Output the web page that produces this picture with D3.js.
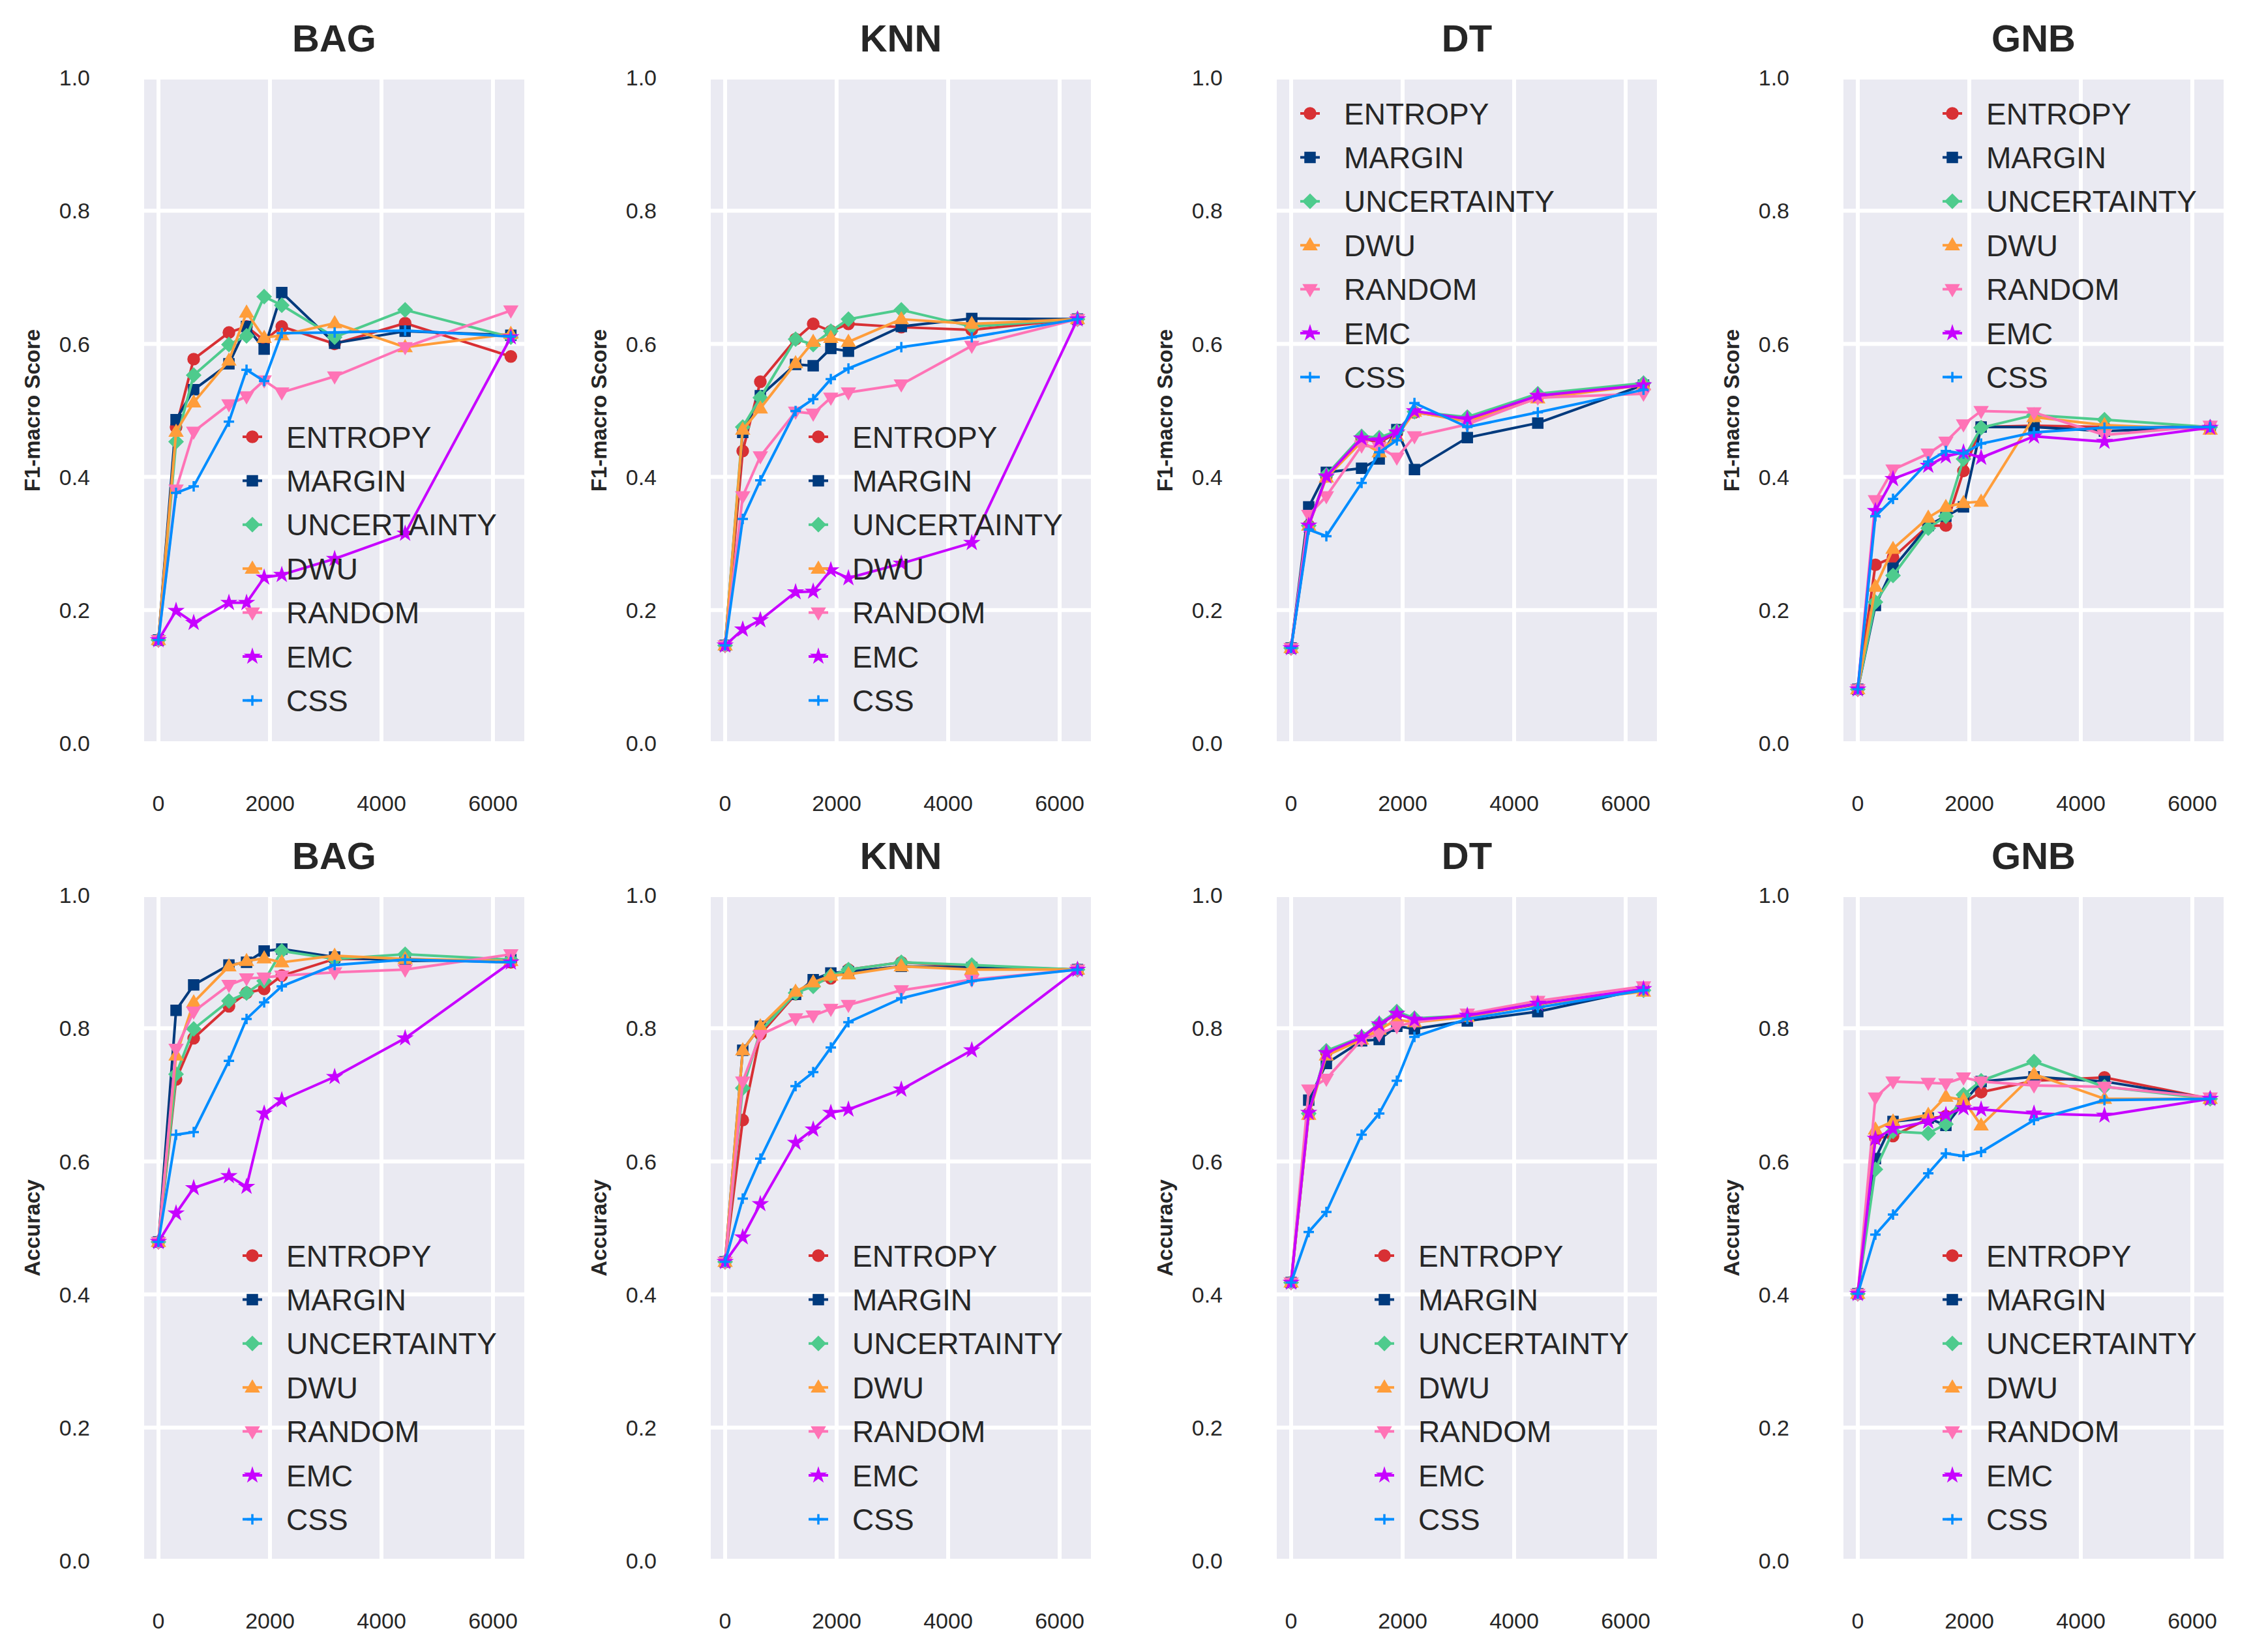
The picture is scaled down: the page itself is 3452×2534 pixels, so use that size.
<!DOCTYPE html>
<html>
<head>
<meta charset="utf-8">
<script src="https://cdn.jsdelivr.net/npm/d3@7"></script>
<style>
  html, body { margin: 0; padding: 0; background: #ffffff; }
  svg { display: block; }
  text { font-family: "Liberation Sans", Arial, "DejaVu Sans", sans-serif; fill: #262626; }
</style>
</head>
<body>
<svg id="chart" width="3452" height="2534"></svg>
<script>
// ---------------- DATA ----------------
const xValues = [0, 316, 632, 1264, 1580, 1896, 2212, 3160, 4424, 6320];
const methods = ["ENTROPY", "MARGIN", "UNCERTAINTY", "DWU", "RANDOM", "EMC", "CSS"];
const methodColors = ["#d83034", "#003a7d", "#4ecb8d", "#ff9d3a", "#ff73b6", "#c701ff", "#008dff"];
const classifiers = ["BAG", "KNN", "DT", "GNB"];
const rowLabels = ["F1-macro Score", "Accuracy"];
const xTicks = [0, 2000, 4000, 6000];
const yTicks = [0.0, 0.2, 0.4, 0.6, 0.8, 1.0];

// rows in the order of `methods`
const f1BAG = [
  [0.155, 0.475, 0.577, 0.617, 0.626, 0.605, 0.626, 0.600, 0.631, 0.581],
  [0.155, 0.486, 0.531, 0.570, 0.626, 0.592, 0.677, 0.601, 0.619, 0.613],
  [0.155, 0.453, 0.553, 0.599, 0.612, 0.671, 0.658, 0.610, 0.651, 0.610],
  [0.155, 0.468, 0.512, 0.575, 0.647, 0.609, 0.613, 0.631, 0.595, 0.615],
  [0.155, 0.381, 0.468, 0.509, 0.521, 0.545, 0.527, 0.551, 0.595, 0.650],
  [0.155, 0.199, 0.181, 0.211, 0.211, 0.249, 0.253, 0.277, 0.315, 0.610],
  [0.155, 0.376, 0.386, 0.483, 0.561, 0.544, 0.616, 0.617, 0.620, 0.611]
];
const f1KNN = [
  [0.147, 0.439, 0.543, 0.607, 0.630, 0.619, 0.630, 0.625, 0.621, 0.637],
  [0.147, 0.467, 0.522, 0.569, 0.567, 0.593, 0.589, 0.626, 0.638, 0.637],
  [0.147, 0.475, 0.519, 0.607, 0.599, 0.619, 0.637, 0.651, 0.626, 0.637],
  [0.147, 0.471, 0.503, 0.571, 0.603, 0.609, 0.603, 0.637, 0.630, 0.637],
  [0.147, 0.371, 0.431, 0.498, 0.495, 0.519, 0.527, 0.539, 0.597, 0.637],
  [0.147, 0.171, 0.185, 0.227, 0.228, 0.260, 0.248, 0.270, 0.301, 0.637],
  [0.147, 0.337, 0.395, 0.499, 0.517, 0.547, 0.563, 0.595, 0.610, 0.637]
];
const f1DT = [
  [0.143, 0.327, 0.401, 0.458, 0.452, 0.466, 0.497, 0.486, 0.521, 0.538],
  [0.143, 0.355, 0.407, 0.413, 0.427, 0.471, 0.411, 0.459, 0.481, 0.538],
  [0.143, 0.327, 0.403, 0.461, 0.459, 0.469, 0.498, 0.490, 0.525, 0.541],
  [0.143, 0.327, 0.399, 0.453, 0.437, 0.461, 0.498, 0.483, 0.518, 0.538],
  [0.143, 0.343, 0.371, 0.447, 0.445, 0.429, 0.461, 0.479, 0.519, 0.525],
  [0.143, 0.327, 0.401, 0.458, 0.455, 0.467, 0.499, 0.487, 0.522, 0.538],
  [0.143, 0.321, 0.311, 0.391, 0.437, 0.455, 0.511, 0.475, 0.497, 0.531]
];
const f1GNB = [
  [0.081, 0.268, 0.279, 0.327, 0.327, 0.409, 0.475, 0.477, 0.475, 0.475],
  [0.081, 0.207, 0.263, 0.327, 0.341, 0.355, 0.475, 0.475, 0.469, 0.475],
  [0.081, 0.212, 0.252, 0.323, 0.341, 0.427, 0.474, 0.493, 0.486, 0.475],
  [0.081, 0.235, 0.292, 0.339, 0.355, 0.361, 0.363, 0.490, 0.478, 0.471],
  [0.081, 0.365, 0.411, 0.435, 0.453, 0.479, 0.499, 0.497, 0.463, 0.477],
  [0.081, 0.349, 0.397, 0.417, 0.431, 0.437, 0.429, 0.461, 0.453, 0.474],
  [0.081, 0.341, 0.367, 0.423, 0.439, 0.435, 0.450, 0.467, 0.474, 0.475]
];
const accBAG = [
  [0.479, 0.723, 0.785, 0.833, 0.853, 0.859, 0.879, 0.904, 0.904, 0.899],
  [0.479, 0.827, 0.865, 0.895, 0.899, 0.916, 0.919, 0.907, 0.901, 0.903],
  [0.479, 0.731, 0.799, 0.841, 0.853, 0.871, 0.916, 0.904, 0.911, 0.903],
  [0.479, 0.759, 0.839, 0.893, 0.901, 0.905, 0.899, 0.909, 0.904, 0.901],
  [0.479, 0.769, 0.825, 0.865, 0.875, 0.876, 0.879, 0.884, 0.888, 0.911],
  [0.479, 0.522, 0.560, 0.578, 0.562, 0.672, 0.692, 0.727, 0.785, 0.899],
  [0.479, 0.640, 0.644, 0.751, 0.814, 0.839, 0.863, 0.895, 0.903, 0.899]
];
const accKNN = [
  [0.449, 0.662, 0.791, 0.851, 0.867, 0.875, 0.888, 0.899, 0.893, 0.888],
  [0.449, 0.767, 0.803, 0.851, 0.873, 0.883, 0.885, 0.893, 0.891, 0.888],
  [0.449, 0.710, 0.795, 0.853, 0.863, 0.879, 0.888, 0.899, 0.895, 0.888],
  [0.449, 0.767, 0.803, 0.855, 0.869, 0.879, 0.881, 0.893, 0.888, 0.888],
  [0.449, 0.720, 0.790, 0.815, 0.819, 0.829, 0.835, 0.857, 0.873, 0.888],
  [0.449, 0.486, 0.536, 0.628, 0.648, 0.673, 0.678, 0.708, 0.767, 0.888],
  [0.449, 0.544, 0.604, 0.713, 0.734, 0.771, 0.809, 0.845, 0.871, 0.888]
];
const accDT = [
  [0.418, 0.672, 0.764, 0.786, 0.805, 0.822, 0.813, 0.818, 0.836, 0.858],
  [0.418, 0.692, 0.747, 0.781, 0.783, 0.803, 0.799, 0.811, 0.825, 0.859],
  [0.418, 0.672, 0.766, 0.787, 0.807, 0.825, 0.815, 0.819, 0.837, 0.857],
  [0.418, 0.670, 0.759, 0.783, 0.798, 0.813, 0.809, 0.817, 0.837, 0.855],
  [0.418, 0.708, 0.724, 0.783, 0.791, 0.803, 0.809, 0.822, 0.841, 0.863],
  [0.418, 0.673, 0.763, 0.786, 0.806, 0.822, 0.813, 0.819, 0.837, 0.859],
  [0.418, 0.494, 0.524, 0.640, 0.672, 0.721, 0.787, 0.814, 0.831, 0.857]
];
const accGNB = [
  [0.401, 0.635, 0.638, 0.664, 0.668, 0.688, 0.704, 0.721, 0.726, 0.694],
  [0.401, 0.604, 0.660, 0.665, 0.654, 0.688, 0.720, 0.727, 0.720, 0.694],
  [0.401, 0.588, 0.645, 0.642, 0.656, 0.700, 0.721, 0.750, 0.712, 0.694],
  [0.401, 0.648, 0.660, 0.670, 0.697, 0.692, 0.654, 0.731, 0.694, 0.694],
  [0.401, 0.696, 0.720, 0.718, 0.717, 0.726, 0.720, 0.714, 0.712, 0.696],
  [0.401, 0.634, 0.649, 0.660, 0.670, 0.680, 0.678, 0.672, 0.669, 0.694],
  [0.401, 0.490, 0.520, 0.582, 0.612, 0.608, 0.614, 0.662, 0.692, 0.694]
];

const panelData = [
  [f1BAG, f1KNN, f1DT, f1GNB],
  [accBAG, accKNN, accDT, accGNB]
];
// legend placement per panel: [x of marker centre, y of first entry] relative to plot area
const legendPos = [
  [[166, 551], [165, 551], [51, 55], [167, 55]],
  [[166, 553], [165, 553], [165, 553], [167, 553]]
];

// ---------------- LAYOUT ----------------
const svg = d3.select("#chart");
svg.append("rect").attr("width", 3452).attr("height", 2534).attr("fill", "#ffffff");

const plotW = 583, plotH = 1021;
const colLeft = [221, 1090, 1958, 2827];
const rowTop = [119, 1373];
const xDomain = [-257, 6561];

function markerPath(i) {
  switch (i) {
    case 0: return d3.symbol(d3.symbolCircle, 254)();
    case 1: return d3.symbol(d3.symbolSquare, 256)();
    case 2: return "M0,-11L11,0L0,11L-11,0Z";
    case 3: return "M0,-11L10.5,7L-10.5,7Z";
    case 4: return "M0,11L10.5,-7L-10.5,-7Z";
    case 5: return d3.symbol(d3.symbolStar, 150)();
    case 6: return "M-8,0H8M0,-8V8";
  }
}

function drawMarker(g, i, x, y) {
  const p = g.append("path")
    .attr("d", markerPath(i))
    .attr("transform", `translate(${x},${y})`);
  if (i === 6) {
    p.attr("fill", "none").attr("stroke", methodColors[i]).attr("stroke-width", 3.5);
  } else {
    p.attr("fill", methodColors[i]).attr("stroke", methodColors[i]).attr("stroke-width", 1.5);
  }
}

for (let r = 0; r < 2; r++) {
  for (let c = 0; c < 4; c++) {
    const g = svg.append("g").attr("transform", `translate(${colLeft[c]},${rowTop[r]})`);
    const x = d3.scaleLinear().domain(xDomain).range([0, plotW]);
    const y = d3.scaleLinear().domain([0, 1]).range([plotH, 0]);

    g.append("rect").attr("width", plotW).attr("height", plotH).attr("fill", "#eaeaf2");

    // grid
    g.selectAll(".vg").data(xTicks).enter().append("line")
      .attr("x1", d => x(d)).attr("x2", d => x(d))
      .attr("y1", 0).attr("y2", plotH)
      .attr("stroke", "#ffffff").attr("stroke-width", 6);
    g.selectAll(".hg").data(yTicks).enter().append("line")
      .attr("x1", 0).attr("x2", plotW)
      .attr("y1", d => y(d)).attr("y2", d => y(d))
      .attr("stroke", "#ffffff").attr("stroke-width", 6);

    // tick labels
    g.selectAll(".xt").data(xTicks).enter().append("text")
      .attr("x", d => x(d)).attr("y", plotH + 104)
      .attr("text-anchor", "middle").attr("font-size", 34)
      .text(d => d);
    g.selectAll(".yt").data(yTicks).enter().append("text")
      .attr("x", -83).attr("y", d => y(d)).attr("dy", "0.36em")
      .attr("text-anchor", "end").attr("font-size", 34)
      .text(d => d.toFixed(1));

    // title
    g.append("text").attr("x", plotW / 2).attr("y", -40)
      .attr("text-anchor", "middle").attr("font-size", 58).attr("font-weight", "bold")
      .text(classifiers[c]);

    // y label
    g.append("text")
      .attr("transform", `translate(${-160},${plotH / 2}) rotate(-90)`)
      .attr("text-anchor", "middle").attr("font-size", 33).attr("font-weight", "bold")
      .text(rowLabels[r]);

    // series
    const data = panelData[r][c];
    const line = d3.line().x((d, k) => x(xValues[k])).y(d => y(d));
    methods.forEach((m, i) => {
      const sg = g.append("g");
      sg.append("path").datum(data[i]).attr("d", line)
        .attr("fill", "none").attr("stroke", methodColors[i]).attr("stroke-width", 4)
        .attr("stroke-linejoin", "round");
      data[i].forEach((v, k) => drawMarker(sg, i, x(xValues[k]), y(v)));
    });

    // legend
    const [lx, ly] = legendPos[r][c];
    methods.forEach((m, i) => {
      const yy = ly + i * 67.4;
      const lg = g.append("g");
      lg.append("line").attr("x1", lx - 15).attr("x2", lx + 15).attr("y1", yy).attr("y2", yy)
        .attr("stroke", methodColors[i]).attr("stroke-width", 4);
      drawMarker(lg, i, lx, yy);
      lg.append("text").attr("x", lx + 52).attr("y", yy).attr("dy", "0.36em")
        .attr("font-size", 46).text(m);
    });
  }
}
</script>
</body>
</html>
